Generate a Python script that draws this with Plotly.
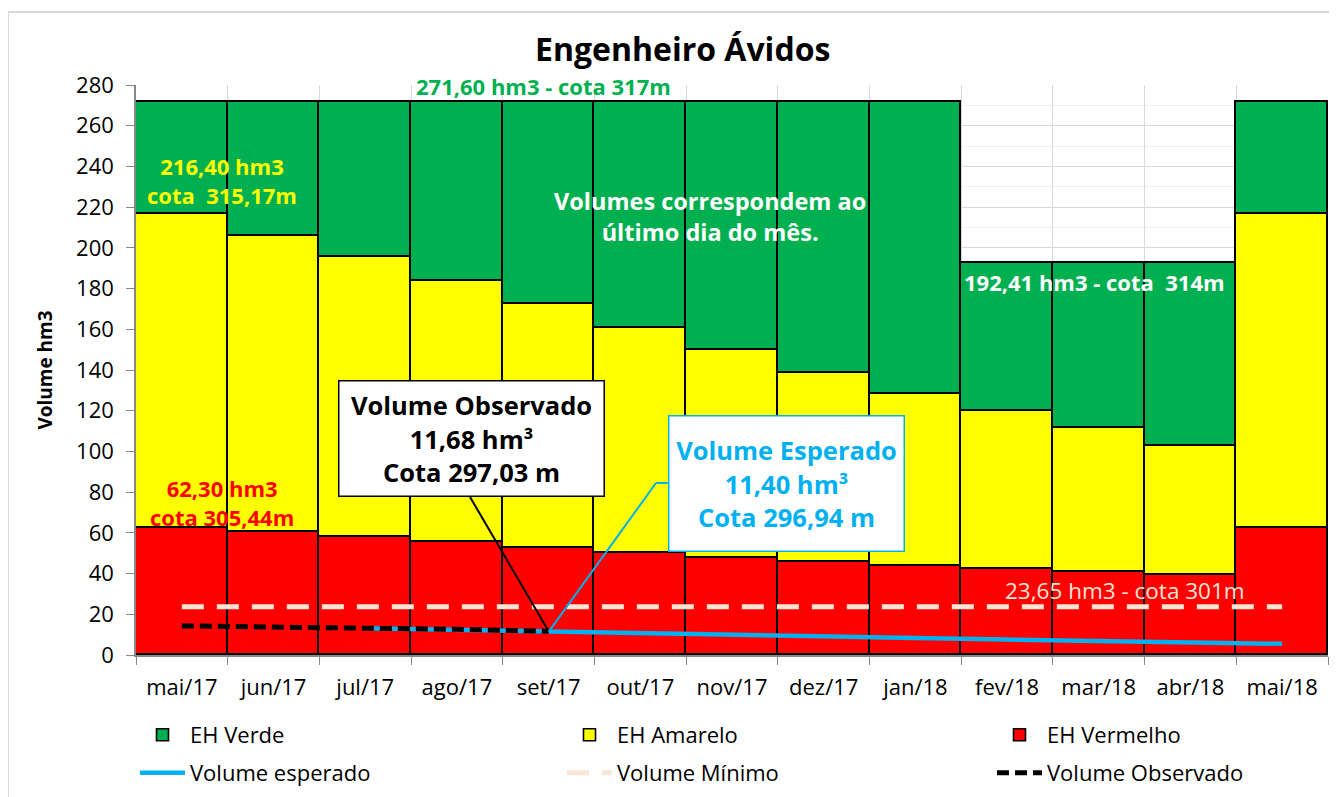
import plotly.graph_objects as go

# ---------------- data ----------------
months = ["mai/17", "jun/17", "jul/17", "ago/17", "set/17", "out/17", "nov/17",
          "dez/17", "jan/18", "fev/18", "mar/18", "abr/18", "mai/18"]
# upper limits (cumulative) of each zone, hm3
red_top = [62.30, 60.4, 58.0, 55.5, 52.6, 50.0, 47.6, 45.7, 43.7, 42.2, 40.8, 39.3, 62.30]
yellow_top = [216.40, 205.8, 195.5, 183.7, 172.4, 160.6, 149.8, 138.5, 128.2, 119.8, 111.5, 102.6, 216.40]
green_top = [271.60, 271.60, 271.60, 271.60, 271.60, 271.60, 271.60, 271.60, 271.60,
             192.41, 192.41, 192.41, 271.60]
vol_minimo = [23.65] * 13
vol_observado = [14.3, 13.8, 13.3, 12.6, 11.68, None, None, None, None, None, None, None, None]
vol_esperado = [None, None, 13.2, 12.3, 11.40, 10.6, 9.8, 9.0, 8.3, 7.6, 6.9, 6.2, 5.5]

red_seg = red_top
yellow_seg = [y - r for y, r in zip(yellow_top, red_top)]
green_seg = [g - y for g, y in zip(green_top, yellow_top)]

FONT = "Open Sans"
GREEN = "#00B050"
YELLOW = "#FFFF00"
RED = "#FF0000"
CYAN = "#00B0F0"
PEACH = "#FBE5D6"

# page-pixel geometry (the page body adds an 8px offset)
OFF = 8
W, H = 1337, 797
L, R, T, B = 136, 1328, 85, 655          # plot area in page pixels
CW = (R - L) / 13.0
YS = (B - T) / 280.0


def fx(px):
    return (px - L) / CW - 0.5


def fy(py):
    return (B - py) / YS


def px_paper(px):
    return (px - L) / (R - L)


def py_paper(py):
    return (B - py) / (B - T)


fig = go.Figure()
bar_line = dict(color="black", width=1.6)
fig.add_trace(go.Bar(x=months, y=red_seg, name="EH Vermelho", marker=dict(color=RED, line=bar_line),
                     legend="legend3", hoverinfo="skip"))
fig.add_trace(go.Bar(x=months, y=yellow_seg, name="EH Amarelo", marker=dict(color=YELLOW, line=bar_line),
                     legend="legend2", hoverinfo="skip"))
fig.add_trace(go.Bar(x=months, y=green_seg, name="EH Verde", marker=dict(color=GREEN, line=bar_line),
                     legend="legend", hoverinfo="skip"))
fig.add_trace(go.Scatter(x=months, y=vol_minimo, name="Volume Mínimo", mode="lines",
                         line=dict(color=PEACH, width=5, dash="22px,13px"), legend="legend5"))
fig.add_trace(go.Scatter(x=months, y=vol_esperado, name="Volume esperado", mode="lines",
                         line=dict(color=CYAN, width=4.5), legend="legend4"))
fig.add_trace(go.Scatter(x=months, y=vol_observado, name="Volume Observado", mode="lines",
                         line=dict(color="black", width=5, dash="12px,6px"), legend="legend6"))

annotations = [
    dict(x=fx(543), y=fy(86), text="<b>271,60 hm3 - cota 317m</b>",
         font=dict(color=GREEN, size=22)),
    dict(x=fx(222), y=fy(180), text="<b>216,40 hm3<br>cota  315,17m</b>",
         font=dict(color=YELLOW, size=22)),
    dict(x=fx(222), y=fy(502), text="<b>62,30 hm3<br>cota 305,44m</b>",
         font=dict(color=RED, size=22)),
    dict(x=fx(710), y=fy(216), text="<b>Volumes correspondem ao<br>último dia do mês.</b>",
         font=dict(color="white", size=23.5)),
    dict(x=fx(1094), y=fy(282), text="<b>192,41 hm3 - cota  314m</b>",
         font=dict(color="white", size=22)),
    dict(x=fx(1125), y=fy(590), text="23,65 hm3 - cota 301m",
         font=dict(color=PEACH, size=22.5)),
    dict(x=fx(471), y=fy(438), text="<b>Volume Observado<br>11,68 hm³<br>Cota 297,03 m</b>",
         font=dict(color="black", size=25.5), bgcolor="white", bordercolor="black", borderwidth=1.5,
         width=262, height=112, borderpad=1),
    dict(x=fx(786), y=fy(483), text="<b>Volume Esperado<br>11,40 hm³<br>Cota 296,94 m</b>",
         font=dict(color=CYAN, size=25.5), bgcolor="white", bordercolor=CYAN, borderwidth=1.5,
         width=232, height=132, borderpad=1),
    dict(x=px_paper(682), y=py_paper(48), xref="paper", yref="paper", text="<b>Engenheiro Ávidos</b>",
         font=dict(color="black", size=32)),
]
for a in annotations:
    a.setdefault("xref", "x")
    a.setdefault("yref", "y")
    a["showarrow"] = False
    a["xanchor"] = "center"
    a["yanchor"] = "middle"
    a["font"]["family"] = FONT

shapes = [
    # leader lines
    dict(type="line", xref="x", yref="y", x0=fx(470), y0=fy(497), x1=4, y1=vol_observado[4],
         line=dict(color="black", width=2), layer="above"),
    dict(type="line", xref="x", yref="y", x0=fx(668), y0=fy(483), x1=fx(656), y1=fy(483),
         line=dict(color=CYAN, width=2), layer="above"),
    dict(type="line", xref="x", yref="y", x0=fx(656), y0=fy(483), x1=4, y1=vol_esperado[4],
         line=dict(color=CYAN, width=2), layer="above"),
    # chart border
    dict(type="rect", xref="paper", yref="paper", x0=px_paper(8), x1=px_paper(1345),
         y0=py_paper(805), y1=py_paper(12), line=dict(color="#D9D9D9", width=2), layer="below"),
]


def leg(px, py):
    return dict(orientation="v", x=px_paper(px), y=py_paper(py), xanchor="left", yanchor="middle",
                itemwidth=45, font=dict(family=FONT, size=22, color="black"),
                bgcolor="rgba(0,0,0,0)")


fig.update_layout(
    width=W, height=H,
    margin=dict(l=L - OFF, r=W - (R - OFF), t=T - OFF, b=H - (B - OFF), autoexpand=False),
    paper_bgcolor="white", plot_bgcolor="white",
    barmode="stack", bargap=0,
    font=dict(family=FONT, size=19, color="black"),
    annotations=annotations, shapes=shapes,
    legend=leg(135, 735), legend2=leg(562, 735), legend3=leg(992, 735),
    legend4=leg(135, 773), legend5=leg(562, 773), legend6=leg(992, 773),
    showlegend=True,
)
fig.update_xaxes(
    type="category", range=[-0.5, 12.5], tickson="boundaries",
    showgrid=True, gridcolor="#D9D9D9", gridwidth=1,
    showline=True, linecolor="#868686", linewidth=1.5,
    ticks="outside", ticklen=8, tickcolor="#868686", ticklabelstandoff=12,
    tickfont=dict(family=FONT, size=22, color="black"),
)
fig.update_yaxes(
    range=[0, 280], dtick=20, tick0=0,
    showgrid=True, gridcolor="#D9D9D9", gridwidth=1,
    minor=dict(dtick=10, showgrid=True, gridcolor="#F0F0F0", gridwidth=1),
    showline=True, linecolor="#868686", linewidth=1.5,
    ticks="outside", ticklen=8, tickcolor="#868686", ticklabelstandoff=8,
    tickfont=dict(family=FONT, size=22, color="black"),
    title=dict(text="<b>Volume hm3</b>", font=dict(family=FONT, size=19, color="black"), standoff=18),
    zeroline=False,
)

fig.write_html("out.html")
